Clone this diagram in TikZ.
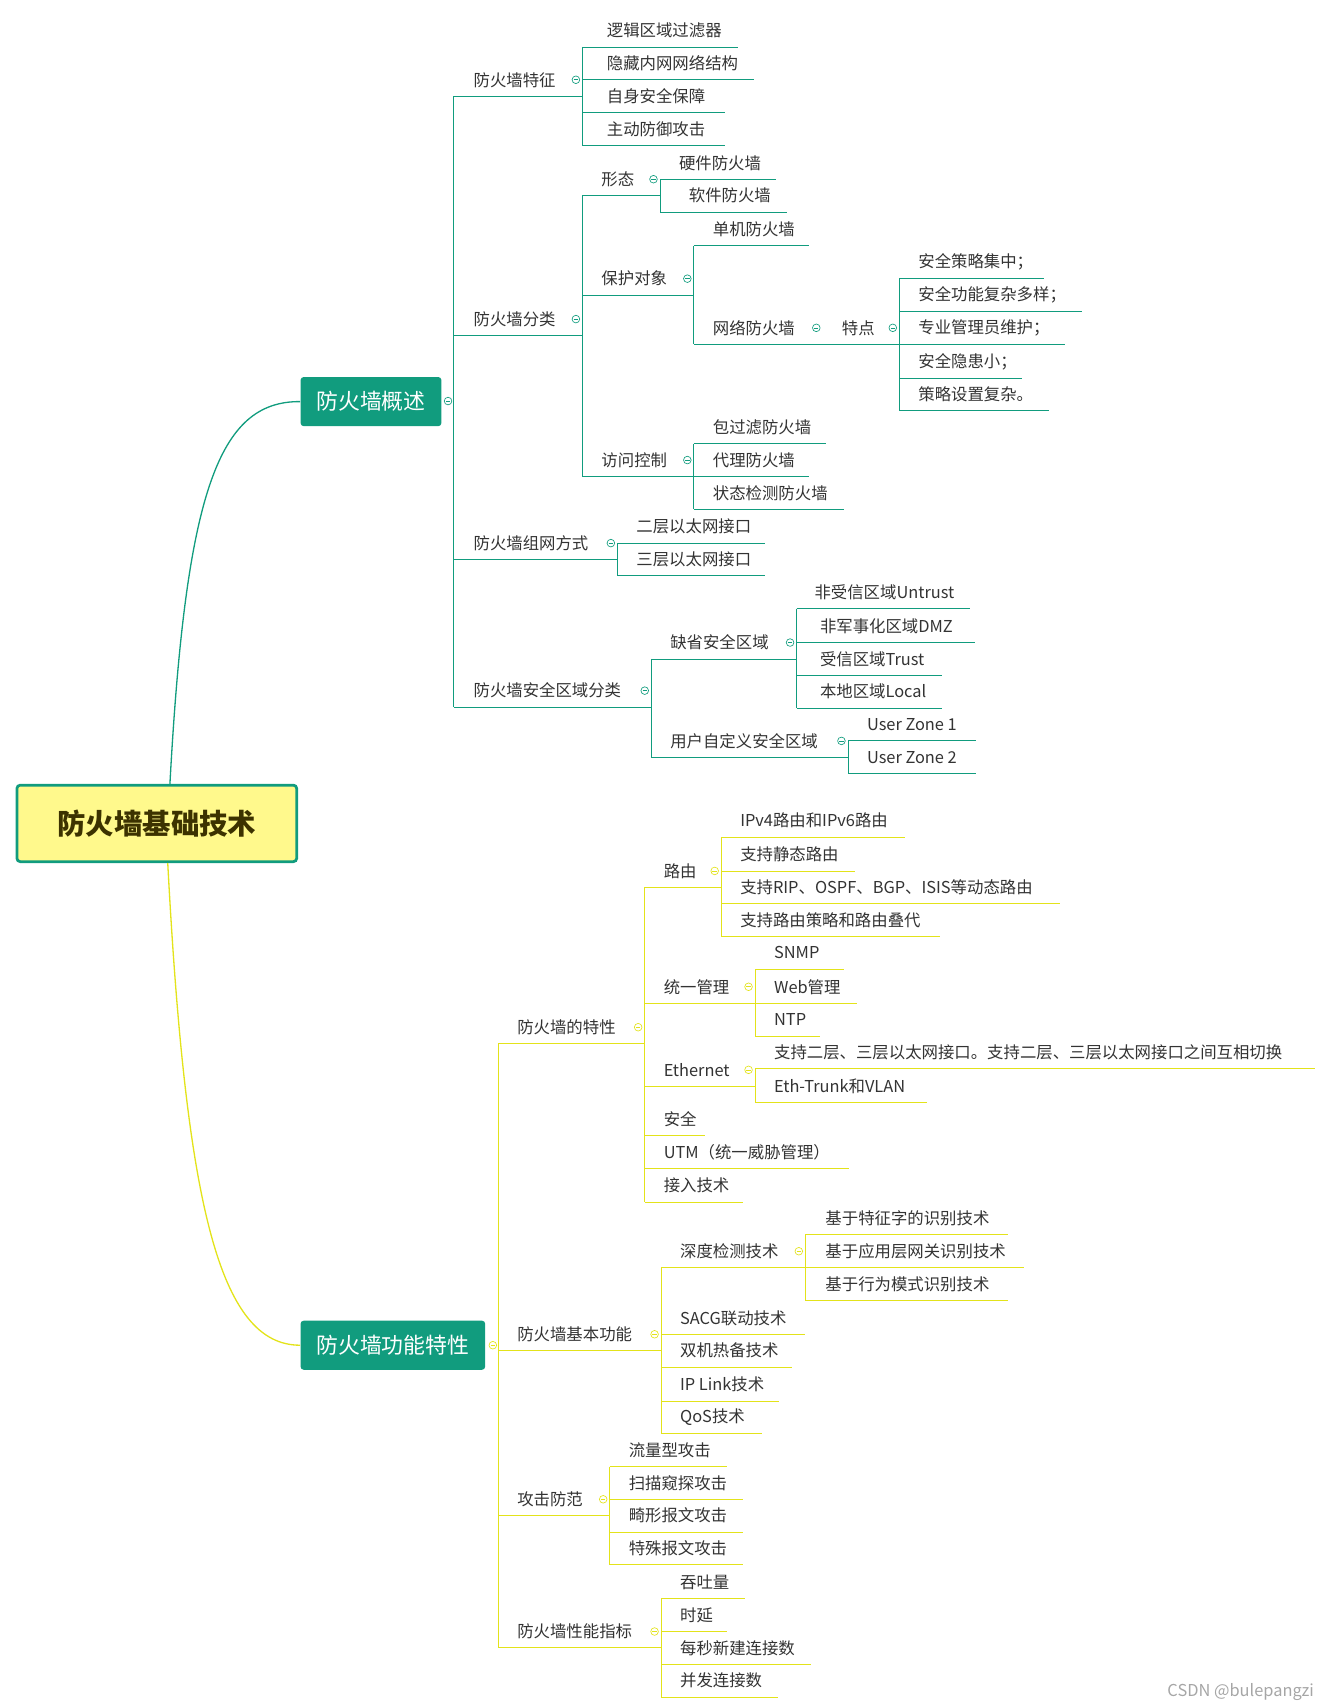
\documentclass[tikz,border=0pt]{standalone}
\usepackage{fontspec}
\setmainfont{Noto Sans CJK SC}
\definecolor{tl}{HTML}{119C7E}
\definecolor{yl}{HTML}{E3E31A}
\definecolor{tx}{HTML}{333333}
\newcommand\itm[6]{%
 \node[lbl] (#1) at (#2,{#3-15}) {#6};
 \coordinate (#1-s) at (#4,#3); \coordinate (#1-e) at (#5,#3);
 \draw (#1-s) -- (#1-e);}
\newcommand\cc[2]{\draw[line width=0.6pt] (#1,#2) circle (3.5); \draw[line width=0.6pt] ({#1-2},#2) -- ({#1+2},#2);}
\newcommand\vl[3]{\coordinate (v#1#2) at (#1,#2); \coordinate (w#1#3) at (#1,#3); \draw (v#1#2) -- (w#1#3);}
\begin{document}
\begin{tikzpicture}[x=1pt,y=-1pt,line width=0.8pt,
 lbl/.style={anchor=west,inner sep=0pt,text=tx,font=\fontsize{15}{16}\selectfont}]
\useasboundingbox (0,0) rectangle (1214,1563);
% root
\node[draw=tl,line width=2.5pt,fill=yellow!45!white,rounded corners=3pt,minimum width=256pt,minimum height=70pt,font=\fontsize{26}{28}\selectfont\bfseries,text={rgb,255:red,60;green,50;blue,0}] (root) at (143.5,753.5) {防火墙基础技术};
\node[fill=tl,rounded corners=3pt,minimum width=129pt,minimum height=45pt,text=white,font=\fontsize{20}{22}\selectfont] (A) at (339.5,367.5) {防火墙概述};
\node[fill=tl,rounded corners=3pt,minimum width=169pt,minimum height=45pt,text=white,font=\fontsize{20}{22}\selectfont] (B) at (359.5,1231) {防火墙功能特性};
\draw[tl,line width=1.2pt] (root.north) ++(12,0) .. controls (170,450) and (200,367) .. (A.west);
\draw[yl,line width=1.2pt] (root.south) ++(10,0) .. controls (170,1100) and (200,1231) .. (B.west);
% top branch
\begin{scope}[draw=tl]
\cc{410}{367}
\vl{415}{88}{647}
\itm{a1}{433}{88}{415}{533}{防火墙特征}\cc{527}{73}
\vl{533}{43}{133}
\itm{a11}{555}{43}{533}{675}{逻辑区域过滤器}
\itm{a12}{555}{73}{533}{690}{隐藏内网网络结构}
\itm{a13}{555}{103}{533}{663}{自身安全保障}
\itm{a14}{555}{133}{533}{663}{主动防御攻击}
\itm{a2}{433}{307}{415}{533}{防火墙分类}\cc{527}{292}
\vl{533}{179}{436}
\itm{a21}{550}{179}{533}{604}{形态}\cc{598}{164}
\vl{604}{164}{194}
\itm{a211}{621}{164}{604}{710}{硬件防火墙}
\itm{a212}{630}{194}{604}{720}{软件防火墙}
\itm{a22}{550}{270}{533}{635}{保护对象}\cc{629}{255}
\vl{635}{225}{315}
\itm{a221}{652}{225}{635}{740}{单机防火墙}
\itm{a222}{652}{315}{635}{755}{网络防火墙}\cc{747}{300}
\itm{a223}{770}{315}{755}{823}{特点}\cc{817}{300}
\vl{823}{255}{376}
\itm{b1}{840}{255}{823}{955}{安全策略集中；}
\itm{b2}{840}{285}{823}{990}{安全功能复杂多样；}
\itm{b3}{840}{315}{823}{975}{专业管理员维护；}
\itm{b4}{840}{346}{823}{935}{安全隐患小；}
\itm{b5}{840}{376}{823}{960}{策略设置复杂。}
\itm{a23}{550}{436}{533}{635}{访问控制}\cc{629}{421}
\vl{635}{406}{466}
\itm{a231}{652}{406}{635}{756}{包过滤防火墙}
\itm{a232}{652}{436}{635}{740}{代理防火墙}
\itm{a233}{652}{466}{635}{772}{状态检测防火墙}
\itm{a3}{433}{512}{415}{565}{防火墙组网方式}\cc{559}{497}
\vl{565}{497}{527}
\itm{a31}{582}{497}{565}{700}{二层以太网接口}
\itm{a32}{582}{527}{565}{700}{三层以太网接口}
\itm{a4}{433}{647}{415}{596}{防火墙安全区域分类}\cc{590}{632}
\vl{596}{603}{693}
\itm{a41}{613}{603}{596}{729}{缺省安全区域}\cc{723}{588}
\vl{729}{557}{648}
\itm{a411}{745}{557}{729}{888}{非受信区域Untrust}
\itm{a412}{750}{588}{729}{892}{非军事化区域DMZ}
\itm{a413}{750}{618}{729}{862}{受信区域Trust}
\itm{a414}{750}{648}{729}{862}{本地区域Local}
\itm{a42}{613}{693}{596}{776}{用户自定义安全区域}\cc{770}{678}
\vl{776}{678}{708}
\itm{a421}{793}{678}{776}{893}{User Zone 1}
\itm{a422}{793}{708}{776}{893}{User Zone 2}
\end{scope}
% bottom branch
\begin{scope}[draw=yl]
\cc{451}{1231}
\vl{456}{955}{1508}
\itm{c1}{473}{955}{456}{590}{防火墙的特性}\cc{584}{940}
\vl{590}{812}{1100}
\itm{c11}{607}{812}{590}{660}{路由}\cc{654}{797}
\vl{660}{766}{857}
\itm{c111}{677}{766}{660}{828}{IPv4路由和IPv6路由}
\itm{c112}{677}{797}{660}{782}{支持静态路由}
\itm{c113}{677}{827}{660}{970}{支持RIP、OSPF、BGP、ISIS等动态路由}
\itm{c114}{677}{857}{660}{860}{支持路由策略和路由叠代}
\itm{c12}{607}{918}{590}{691}{统一管理}\cc{685}{903}
\vl{691}{887}{948}
\itm{c121}{708}{887}{691}{772}{SNMP}
\itm{c122}{708}{918}{691}{784}{Web管理}
\itm{c123}{708}{948}{691}{750}{NTP}
\itm{c13}{607}{994}{590}{691}{Ethernet}\cc{685}{979}
\vl{691}{978}{1009}
\itm{c131}{708}{978}{691}{1203}{支持二层、三层以太网接口。支持二层、三层以太网接口之间互相切换}
\itm{c132}{708}{1009}{691}{848}{Eth-Trunk和VLAN}
\itm{c14}{607}{1039}{590}{645}{安全}
\itm{c15}{607}{1069}{590}{777}{UTM（统一威胁管理）}
\itm{c16}{607}{1100}{590}{680}{接入技术}
\itm{c2}{473}{1236}{456}{605}{防火墙基本功能}\cc{599}{1221}
\vl{605}{1160}{1312}
\itm{c21}{622}{1160}{605}{737}{深度检测技术}\cc{731}{1145}
\vl{737}{1130}{1190}
\itm{c211}{755}{1130}{737}{922}{基于特征字的识别技术}
\itm{c212}{755}{1160}{737}{937}{基于应用层网关识别技术}
\itm{c213}{755}{1190}{737}{922}{基于行为模式识别技术}
\itm{c22}{622}{1221}{605}{737}{SACG联动技术}
\itm{c23}{622}{1251}{605}{725}{双机热备技术}
\itm{c24}{622}{1282}{605}{713}{IP Link技术}
\itm{c25}{622}{1312}{605}{697}{QoS技术}
\itm{c3}{473}{1387}{456}{558}{攻击防范}\cc{552}{1372}
\vl{558}{1342}{1432}
\itm{c31}{575}{1342}{558}{665}{流量型攻击}
\itm{c32}{575}{1372}{558}{680}{扫描窥探攻击}
\itm{c33}{575}{1402}{558}{680}{畸形报文攻击}
\itm{c34}{575}{1432}{558}{680}{特殊报文攻击}
\itm{c4}{473}{1508}{456}{605}{防火墙性能指标}\cc{599}{1493}
\vl{605}{1463}{1553}
\itm{c41}{622}{1463}{605}{682}{吞吐量}
\itm{c42}{622}{1493}{605}{665}{时延}
\itm{c43}{622}{1523}{605}{742}{每秒新建连接数}
\itm{c44}{622}{1553}{605}{712}{并发连接数}
\end{scope}
\node[anchor=east,text=black!35,font=\fontsize{15}{16}\selectfont] (wm) at (1206,1548) {CSDN @bulepangzi};
\end{tikzpicture}
\end{document}
